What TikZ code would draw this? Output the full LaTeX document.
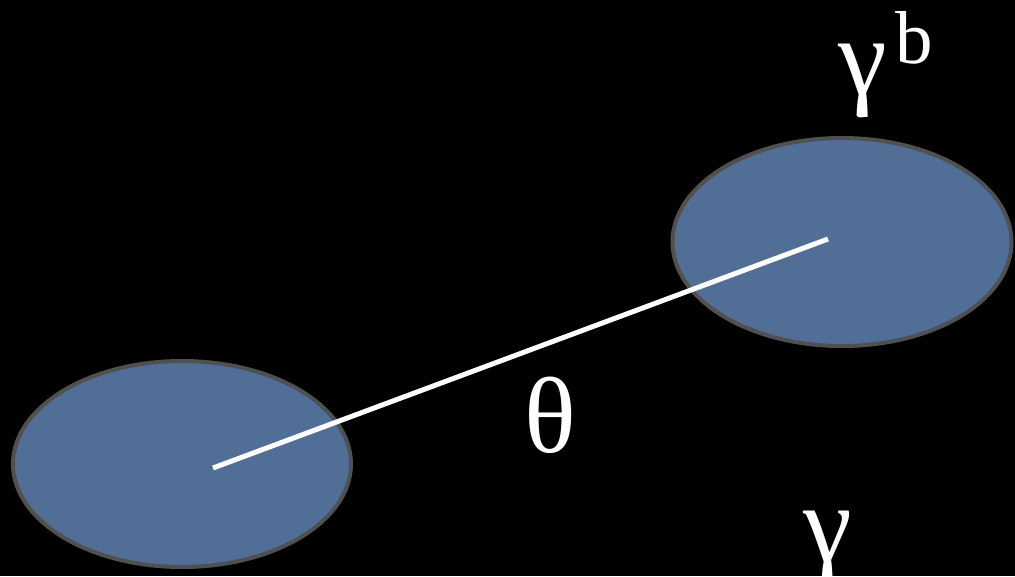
\documentclass[tikz,border=0pt]{standalone}
\usepackage{fontspec}
\setmainfont{Liberation Serif}
\usetikzlibrary{shapes.geometric}
\definecolor{blobfill}{RGB}{80,110,150}
\definecolor{blobline}{RGB}{80,80,80}
\tikzset{
  blob/.style={ellipse, draw=blobline, line width=4pt, fill=blobfill, inner sep=0pt},
  lbl/.style={text=white, inner sep=0pt},
  link/.style={draw=white, line width=5pt}
}
\begin{document}
\begin{tikzpicture}[x=1pt,y=-1pt]
\useasboundingbox (0,0) rectangle (1015,576);
\fill[black] (0,0) rectangle (1015,576);
\clip (0,0) rectangle (1015,576);
\node[blob, minimum width=338pt, minimum height=206pt] (A) at (182,464) {};
\node[blob, minimum width=339pt, minimum height=208pt] (B) at (842,242) {};
\coordinate (p) at (213,468);
\coordinate (q) at (828,239);
\draw[link] (p) -- (q);
\node[lbl, font=\fontsize{108}{120}\selectfont] (th) at (550,415) {θ};
\node[lbl, font=\fontsize{110}{120}\selectfont] (g1) at (863,81) {γ};
\node[lbl, font=\fontsize{75}{80}\selectfont] (b) at (914,38) {b};
\node[lbl, font=\fontsize{110}{120}\selectfont] (g2) at (828,548) {γ};
\end{tikzpicture}
\end{document}
